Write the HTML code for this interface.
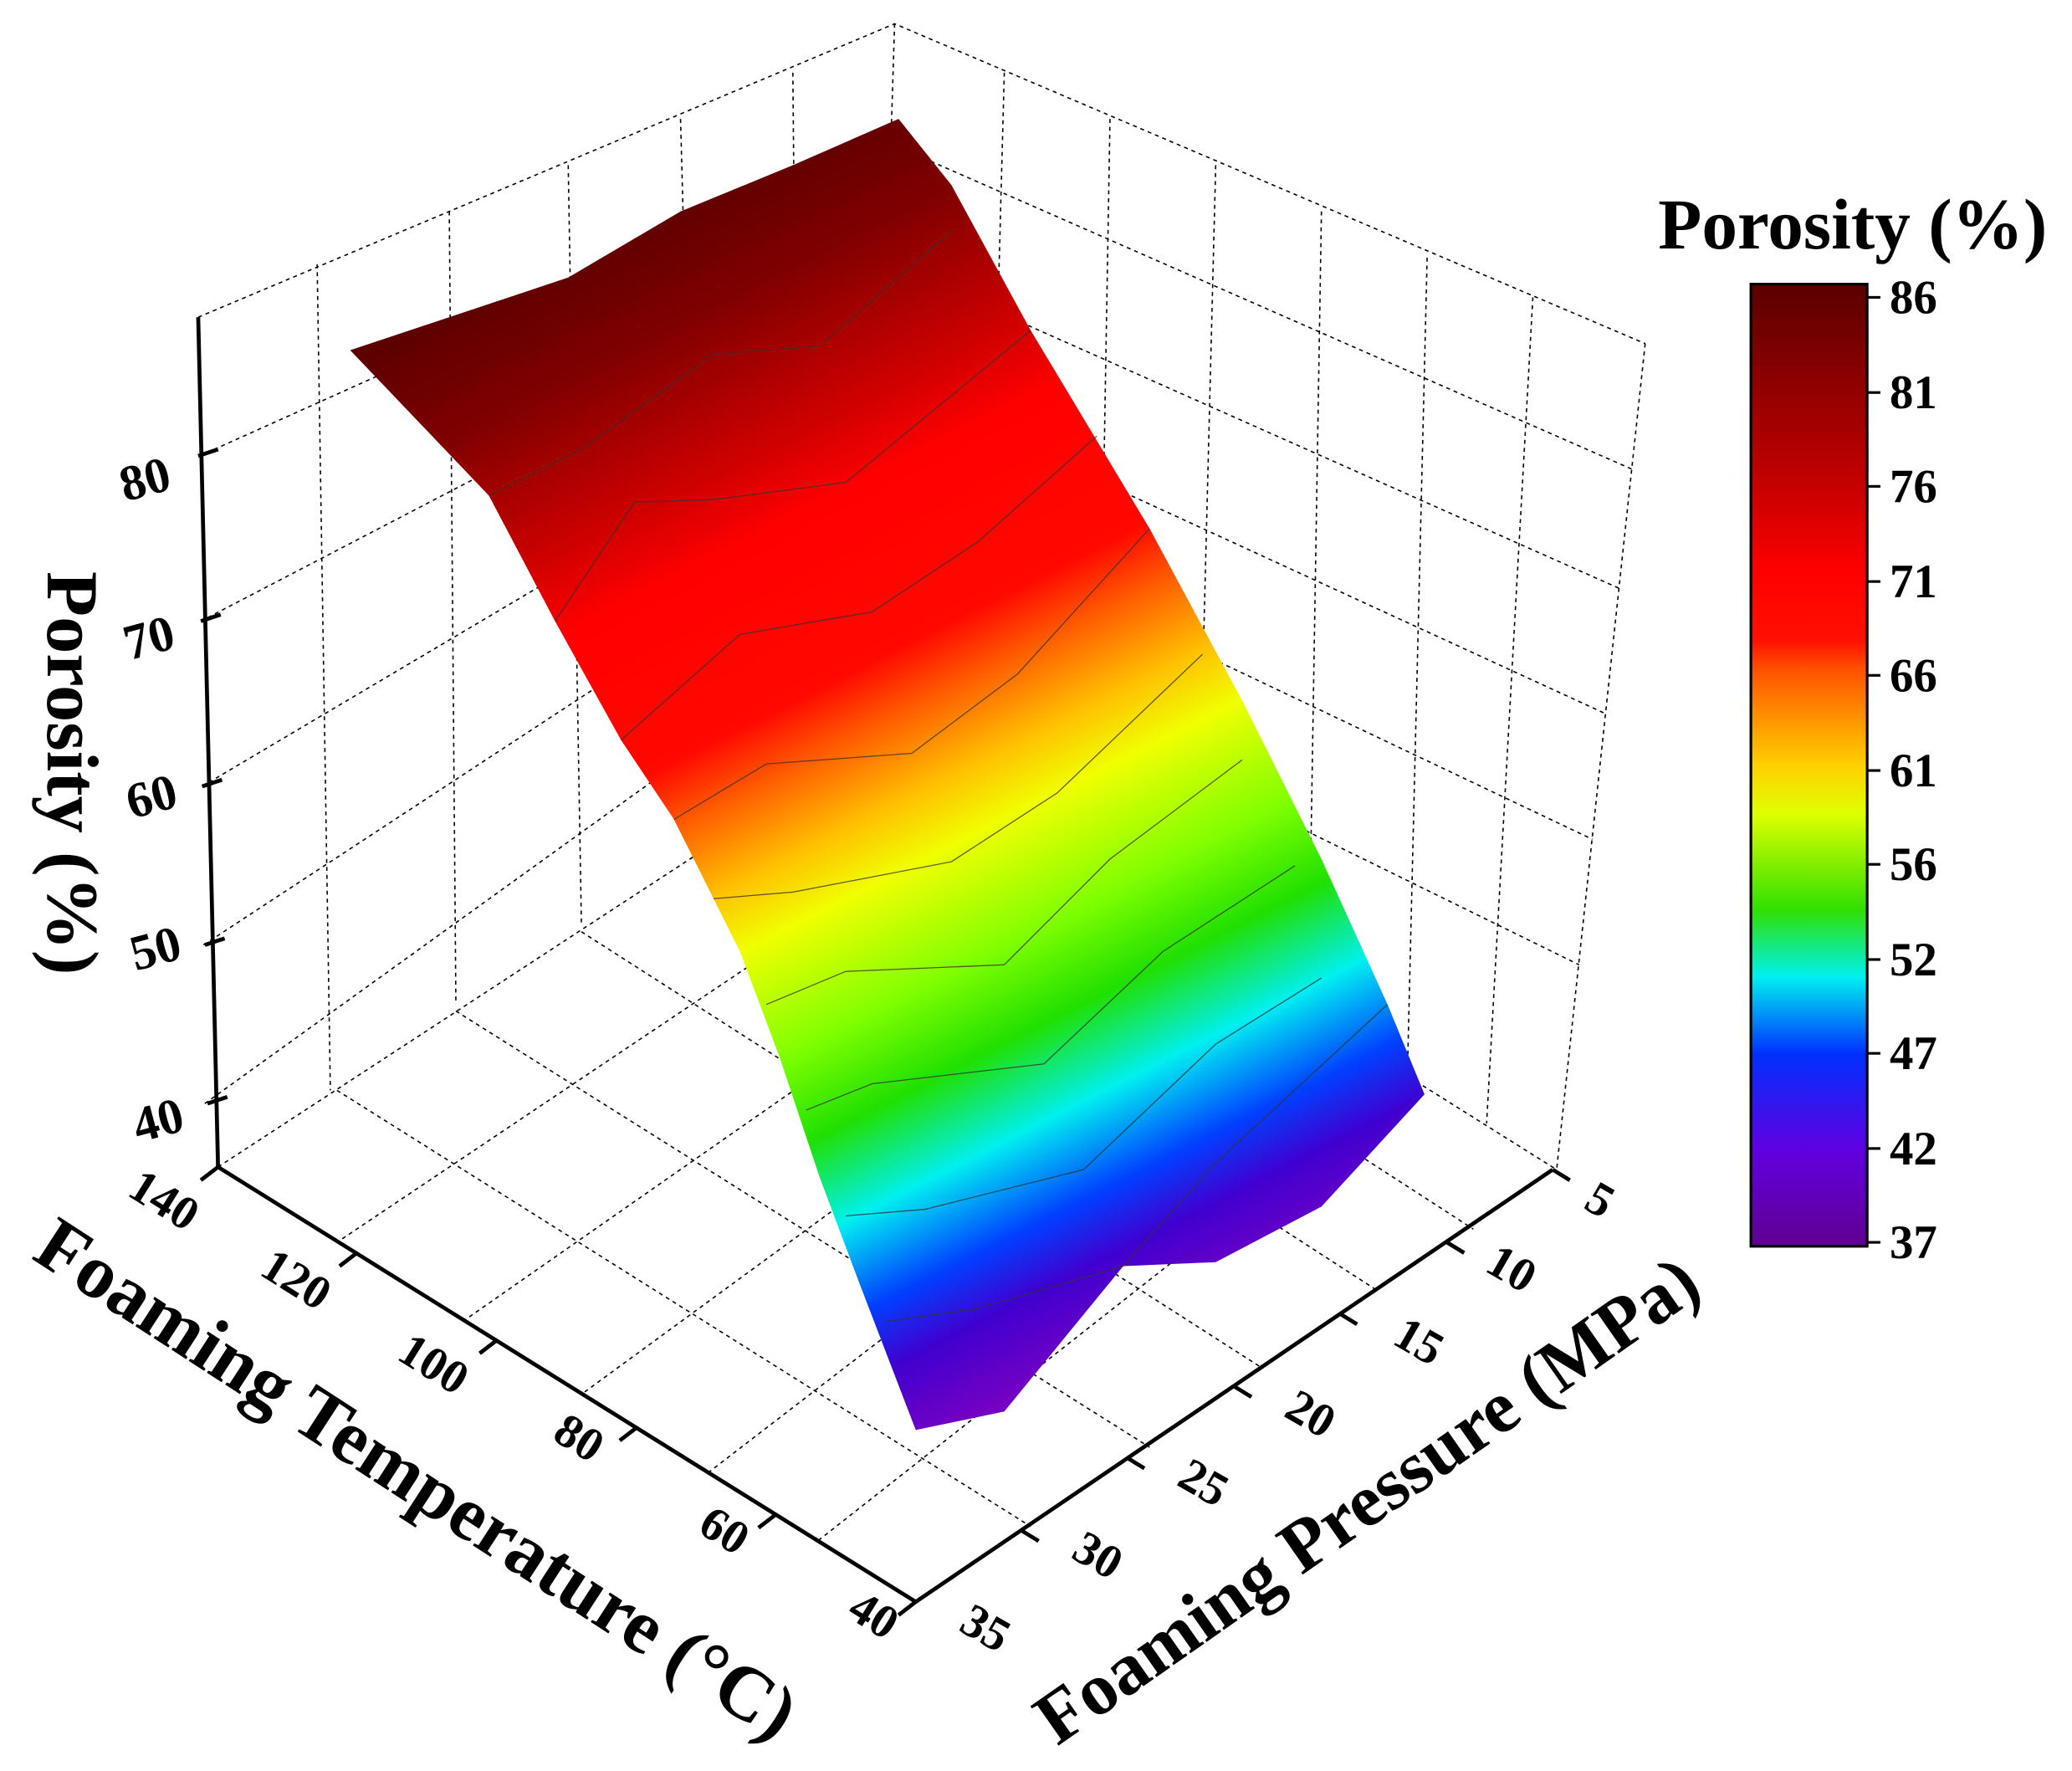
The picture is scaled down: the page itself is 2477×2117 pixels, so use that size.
<!DOCTYPE html>
<html><head><meta charset="utf-8"><style>
html,body{margin:0;padding:0;background:#fff;}
svg{display:block;}
text{font-family:"Liberation Serif",serif;font-weight:bold;fill:#000;}
</style></head><body>
<svg width="2477" height="2117" viewBox="0 0 1568 1340" preserveAspectRatio="none" xmlns="http://www.w3.org/2000/svg">
<defs>
<linearGradient id="sg" gradientUnits="userSpaceOnUse" x1="265" y1="265" x2="692" y2="1110">
<stop offset="0" stop-color="#5a0000"/><stop offset="0.1" stop-color="#800000"/>
<stop offset="0.22" stop-color="#d00000"/><stop offset="0.28" stop-color="#ff0000"/>
<stop offset="0.41" stop-color="#ff0800"/><stop offset="0.46" stop-color="#ff6000"/>
<stop offset="0.52" stop-color="#ffc000"/><stop offset="0.57" stop-color="#f0ff00"/>
<stop offset="0.66" stop-color="#80ff00"/><stop offset="0.73" stop-color="#20e000"/>
<stop offset="0.8" stop-color="#00f0f0"/><stop offset="0.87" stop-color="#0040ff"/>
<stop offset="0.92" stop-color="#4000d0"/><stop offset="1" stop-color="#8000c0"/></linearGradient>
<linearGradient id="cb" x1="0" y1="0" x2="0" y2="1">
<stop offset="0" stop-color="#5a0000"/><stop offset="0.2" stop-color="#c00000"/>
<stop offset="0.3" stop-color="#ff0000"/><stop offset="0.37" stop-color="#ff1000"/>
<stop offset="0.4" stop-color="#ff5000"/><stop offset="0.5" stop-color="#ffd000"/>
<stop offset="0.55" stop-color="#e0ff00"/><stop offset="0.65" stop-color="#30e000"/>
<stop offset="0.72" stop-color="#00f0f0"/><stop offset="0.8" stop-color="#0030ff"/>
<stop offset="0.9" stop-color="#6000e0"/><stop offset="1" stop-color="#600090"/></linearGradient>
</defs>
<g stroke="#000" stroke-width="1" stroke-dasharray="3,3" fill="none">
<polyline points="150,240 677,18 1245,260"/>
<line x1="677" y1="18" x2="660" y2="560"/>
<line x1="660" y1="560" x2="165" y2="883"/>
<line x1="660" y1="560" x2="1178" y2="885"/>
<line x1="1245" y1="260" x2="1178" y2="885"/>
<line x1="151" y1="345" x2="674" y2="110"/><line x1="152" y1="470" x2="671" y2="200"/>
<line x1="153" y1="595" x2="668" y2="290"/><line x1="154" y1="715" x2="665" y2="380"/>
<line x1="155" y1="835" x2="662" y2="470"/>
<line x1="240" y1="200" x2="250" y2="825"/><line x1="340" y1="160" x2="345" y2="760"/>
<line x1="430" y1="125" x2="440" y2="700"/><line x1="515" y1="90" x2="530" y2="640"/>
<line x1="600" y1="55" x2="605" y2="600"/>
<line x1="677" y1="110" x2="1235" y2="355"/><line x1="674" y1="200" x2="1225" y2="445"/>
<line x1="671" y1="290" x2="1215" y2="540"/><line x1="668" y1="380" x2="1205" y2="635"/>
<line x1="665" y1="470" x2="1195" y2="730"/>
<line x1="760" y1="55" x2="745" y2="615"/><line x1="840" y1="90" x2="830" y2="665"/>
<line x1="920" y1="125" x2="905" y2="715"/><line x1="1000" y1="160" x2="990" y2="765"/>
<line x1="1080" y1="195" x2="1065" y2="815"/><line x1="1160" y1="225" x2="1125" y2="850"/>
<line x1="255" y1="825" x2="780" y2="1155"/><line x1="345" y1="765" x2="870" y2="1095"/>
<line x1="440" y1="705" x2="955" y2="1035"/><line x1="530" y1="645" x2="1040" y2="975"/>
<line x1="605" y1="600" x2="1115" y2="930"/>
<line x1="740" y1="615" x2="255" y2="940"/><line x1="830" y1="665" x2="350" y2="1000"/>
<line x1="905" y1="715" x2="440" y2="1055"/><line x1="990" y1="765" x2="535" y2="1115"/>
<line x1="1065" y1="815" x2="620" y2="1165"/>
</g>
<polygon fill="url(#sg)" points="265,265 370,230 430,210 515,160 600,125 680,90 720,140 780,250 870,400 940,530 1000,650 1050,760 1078,828 1000,913 920,955 850,958 760,1068 693,1082 650,970 620,890 590,800 560,720 540,680 510,620 470,560 420,470 370,375"/>
<g stroke="#333" stroke-width="0.8" fill="none" opacity="0.8">
<polyline points="370,375 440,340 540,268 620,262 720,175"/>
<polyline points="420,470 480,380 540,378 640,365 780,250"/>
<polyline points="470,560 560,480 660,463 740,410 830,330"/>
<polyline points="510,620 580,578 690,570 770,510 870,400"/>
<polyline points="540,680 600,675 720,652 800,600 910,495"/>
<polyline points="580,760 640,735 760,730 840,650 940,575"/>
<polyline points="610,840 660,820 790,805 880,720 980,655"/>
<polyline points="640,920 700,915 820,885 920,790 1000,740"/>
<polyline points="670,1000 740,990 850,958 920,880 1050,760"/>
</g>
<g stroke="#000" stroke-width="3" fill="none">
<line x1="150" y1="240" x2="165" y2="883"/>
<line x1="165" y1="883" x2="693" y2="1212"/>
<line x1="693" y1="1212" x2="1175" y2="885"/>
<line x1="150" y1="345" x2="165" y2="340"/><line x1="152" y1="470" x2="167" y2="465"/>
<line x1="153" y1="595" x2="168" y2="590"/><line x1="155" y1="715" x2="170" y2="710"/>
<line x1="157" y1="835" x2="172" y2="830"/>
<line x1="165" y1="883" x2="152" y2="893"/><line x1="270" y1="948" x2="257" y2="958"/>
<line x1="376" y1="1014" x2="363" y2="1024"/><line x1="482" y1="1080" x2="469" y2="1090"/>
<line x1="587" y1="1146" x2="574" y2="1156"/><line x1="693" y1="1212" x2="680" y2="1222"/>
<line x1="1175" y1="885" x2="1188" y2="893"/><line x1="1095" y1="940" x2="1108" y2="948"/>
<line x1="1014" y1="994" x2="1027" y2="1002"/><line x1="934" y1="1049" x2="947" y2="1057"/>
<line x1="853" y1="1103" x2="866" y2="1111"/><line x1="773" y1="1158" x2="786" y2="1166"/>
</g>
<g font-size="38">
<text x="90" y="375" transform="rotate(-15 110 360)">80</text>
<text x="93" y="495" transform="rotate(-15 113 480)">70</text>
<text x="95" y="615" transform="rotate(-15 115 600)">60</text>
<text x="98" y="730" transform="rotate(-15 118 715)">50</text>
<text x="100" y="860" transform="rotate(-15 120 845)">40</text>
</g>
<text font-size="56" transform="translate(36,585) rotate(90)" text-anchor="middle">Porosity (%)</text>
<g font-size="36" text-anchor="middle">
<text transform="translate(118,918) rotate(32)">140</text>
<text transform="translate(218,978) rotate(32)">120</text>
<text transform="translate(322,1042) rotate(32)">100</text>
<text transform="translate(432,1098) rotate(32)">80</text>
<text transform="translate(542,1168) rotate(32)">60</text>
<text transform="translate(655,1232) rotate(32)">40</text>
</g>
<text font-size="58" text-anchor="middle" transform="translate(305,1135) rotate(33)">Foaming Temperature (°C)</text>
<g font-size="36" text-anchor="middle">
<text transform="translate(1205,918) rotate(30)">5</text>
<text transform="translate(1138,970) rotate(30)">10</text>
<text transform="translate(1068,1025) rotate(30)">15</text>
<text transform="translate(986,1080) rotate(30)">20</text>
<text transform="translate(905,1132) rotate(30)">25</text>
<text transform="translate(825,1187) rotate(30)">30</text>
<text transform="translate(740,1242) rotate(30)">35</text>
</g>
<text font-size="56" text-anchor="middle" transform="translate(1045,1150) rotate(-35)">Foaming Pressure (MPa)</text>
<text x="1402" y="188" font-size="54" text-anchor="middle">Porosity (%)</text>
<rect x="1325" y="215" width="88" height="728" fill="url(#cb)" stroke="#000" stroke-width="2"/>
<g stroke="#000" stroke-width="2">
<line x1="1413" y1="225" x2="1423" y2="225"/><line x1="1413" y1="297" x2="1423" y2="297"/>
<line x1="1413" y1="368" x2="1423" y2="368"/><line x1="1413" y1="440" x2="1423" y2="440"/>
<line x1="1413" y1="511" x2="1423" y2="511"/><line x1="1413" y1="583" x2="1423" y2="583"/>
<line x1="1413" y1="654" x2="1423" y2="654"/><line x1="1413" y1="726" x2="1423" y2="726"/>
<line x1="1413" y1="797" x2="1423" y2="797"/><line x1="1413" y1="869" x2="1423" y2="869"/>
<line x1="1413" y1="940" x2="1423" y2="940"/>
</g>
<g font-size="36">
<text x="1430" y="237">86</text><text x="1430" y="309">81</text><text x="1430" y="380">76</text>
<text x="1430" y="452">71</text><text x="1430" y="523">66</text><text x="1430" y="595">61</text>
<text x="1430" y="666">56</text><text x="1430" y="738">52</text><text x="1430" y="809">47</text>
<text x="1430" y="881">42</text><text x="1430" y="952">37</text>
</g>
</svg>
</body></html>
